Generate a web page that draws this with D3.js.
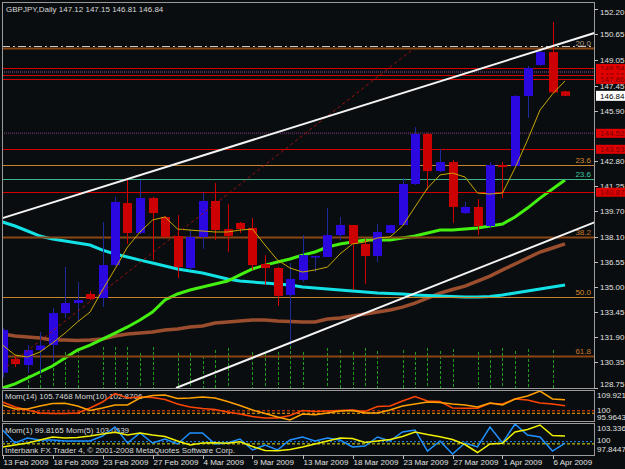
<!DOCTYPE html>
<html>
<head>
<meta charset="utf-8">
<script src="https://cdn.jsdelivr.net/npm/d3@7"></script>
<style>
  body { margin: 0; background: #0a0d0f; }
  #chart { width: 625px; height: 469px; }
  text { font-family: "Liberation Sans", Arial, sans-serif; font-size: 8px; }
</style>
</head>
<body>
<div id="chart"></div>
<script>
// GBPJPY daily bars, 13 Feb 2009 .. 7 Apr 2009 (sunday bars included)
const dateBars = [0, 4, 8, 12, 16, 20, 24, 28, 32, 36, 40, 44];
const dateLabels = ["13 Feb 2009", "18 Feb 2009", "23 Feb 2009", "27 Feb 2009", "4 Mar 2009", "9 Mar 2009",
    "13 Mar 2009", "18 Mar 2009", "23 Mar 2009", "27 Mar 2009", "1 Apr 2009", "6 Apr 2009"];

const openPrices = [129.70, 130.54, 130.17, 131.10, 131.41, 133.39, 134.01, 134.57, 134.32, 136.36, 140.20, 138.35,
    140.51, 139.34, 138.16, 136.18, 138.10, 140.33, 138.59, 138.97, 138.66, 136.43, 136.18, 134.51, 135.44, 136.86,
    136.86, 138.22, 138.84, 137.67, 136.92, 138.35, 138.84, 141.38, 144.48, 142.18, 142.74, 139.58, 139.96, 138.78,
    142.56, 142.49, 146.83, 148.75, 149.55, 147.12];
const highPrices = [132.45, 130.73, 131.41, 132.22, 133.70, 136.24, 135.31, 134.75, 139.03, 140.58, 141.75, 141.63,
    140.58, 139.40, 139.46, 138.53, 140.82, 141.44, 140.14, 139.03, 139.27, 136.98, 136.24, 136.49, 138.22, 136.92,
    139.89, 139.34, 138.84, 137.97, 138.90, 138.84, 141.75, 144.90, 144.54, 143.55, 142.87, 140.27, 140.45, 142.74,
    142.74, 146.89, 148.69, 149.68, 151.41, 147.15];
const lowPrices = [129.40, 130.05, 129.68, 129.68, 130.36, 133.08, 132.84, 134.20, 133.76, 136.30, 137.67, 138.28,
    136.67, 138.04, 135.56, 136.06, 137.36, 137.91, 137.17, 138.35, 136.06, 135.13, 133.83, 131.41, 135.31, 135.93,
    136.86, 137.91, 134.82, 135.19, 136.55, 138.35, 138.84, 141.32, 141.01, 142.12, 138.97, 139.52, 138.22, 138.66,
    140.51, 142.43, 145.47, 148.69, 147.01, 146.81];
const closePrices = [132.35, 130.23, 131.10, 131.38, 133.39, 134.01, 134.20, 134.26, 136.36, 140.27, 138.35, 140.51,
    139.58, 138.10, 136.24, 138.10, 140.33, 138.53, 138.16, 138.59, 136.36, 136.18, 134.45, 135.50, 136.98, 136.92,
    138.22, 138.84, 137.67, 136.92, 138.41, 138.84, 141.38, 144.48, 142.18, 142.74, 139.96, 139.96, 138.78, 142.56,
    142.43, 146.83, 148.56, 149.55, 147.05, 146.84];

// moving averages as drawn on the chart
const maYellow = [131.41, 130.79, 130.67, 130.98, 131.54, 132.15, 132.84, 133.45, 134.82, 136.12, 137.48, 138.41,
    139.15, 139.34, 138.59, 138.53, 138.47, 138.41, 138.41, 138.53, 138.59, 137.60, 136.67, 136.18, 135.93, 136.06,
    136.24, 137.05, 137.67, 137.79, 138.04, 138.10, 138.78, 139.96, 141.13, 141.94, 142.06, 141.81, 140.82, 140.76,
    140.82, 142.37, 144.10, 145.96, 146.95, 147.76];
const maCyan = [139.03, 138.78, 138.47, 138.16, 137.97, 137.85, 137.73, 137.60, 137.29, 137.05, 136.86, 136.67,
    136.49, 136.30, 136.12, 135.99, 135.87, 135.68, 135.50, 135.37, 135.31, 135.25, 135.19, 135.13, 135.00, 134.94,
    134.88, 134.82, 134.75, 134.69, 134.63, 134.60, 134.57, 134.51, 134.48, 134.45, 134.42, 134.38, 134.38, 134.42,
    134.51, 134.63, 134.75, 134.88, 135.00, 135.13];
const maGreen = [128.75, 129.00, 129.37, 129.74, 130.11, 130.61, 131.10, 131.41, 131.78, 132.15, 132.53, 132.96,
    133.45, 134.20, 134.57, 134.82, 135.00, 135.19, 135.37, 135.75, 136.12, 136.36, 136.55, 136.74, 136.98, 137.17,
    137.48, 137.67, 137.79, 137.91, 137.91, 137.91, 138.04, 138.16, 138.35, 138.53, 138.53, 138.59, 138.66, 138.78,
    138.90, 139.34, 139.89, 140.51, 141.07, 141.63];
const maBrown = [132.09, 131.97, 131.91, 131.84, 131.72, 131.72, 131.69, 131.72, 131.78, 131.97, 132.09, 132.15,
    132.22, 132.34, 132.40, 132.53, 132.59, 132.77, 132.84, 132.90, 132.96, 132.96, 132.90, 132.87, 132.84, 132.84,
    133.02, 133.08, 133.21, 133.33, 133.45, 133.58, 133.76, 134.01, 134.32, 134.63, 134.85, 135.06, 135.37, 135.68,
    136.06, 136.43, 136.80, 137.17, 137.42, 137.67];

// green dashed bars at the foot of the price window
const volumes = [null, null, 38, 28, 25, 36, 38, null, 41, 41, 41, 35, 41, null, 35, 35, 32, 38, 40, null, 36, 35,
    36, 42, 36, null, 40, 38, 36, 40, 37, null, 38, 36, 40, 37, 39, null, 36, 38, 40, 37, 39, null, 38, null];

// momentum windows
const mom14 = [103.18, 101.26, 101.26, 102.70, 103.91, 104.00, 102.70, 100.54, 101.74, 103.18, 103.18, 106.55,
    107.76, 107.99, 106.31, 106.55, 107.03, 106.55, 104.87, 102.94, 100.78, 99.09, 97.41, 95.96, 98.85, 98.47,
    99.33, 100.30, 100.54, 99.33, 99.33, 100.78, 102.70, 103.66, 104.63, 104.39, 103.66, 103.18, 102.22, 104.15,
    103.18, 106.07, 107.52, 109.92, 106.07, 105.75];
const mom10 = [104.63, 102.22, 100.78, 99.33, 99.09, 99.09, 99.33, 101.74, 104.63, 108.72, 106.55, 107.03, 106.79,
    105.83, 103.66, 102.22, 101.50, 101.02, 99.81, 98.85, 97.65, 96.93, 96.93, 98.13, 100.54, 100.06, 100.30, 100.54,
    100.78, 100.06, 102.46, 102.70, 105.11, 107.27, 105.11, 104.87, 101.74, 101.60, 101.60, 104.00, 103.66, 106.07,
    105.59, 104.15, 103.66, 102.87];
const mom1 = [102.24, 99.86, 100.77, 100.41, 100.41, 100.22, 100.22, 100.22, 101.14, 102.79, 99.86, 101.69, 99.86,
    100.59, 99.68, 101.69, 101.69, 99.68, 99.86, 100.59, 98.58, 99.49, 98.58, 100.41, 100.96, 100.22, 100.77, 100.41,
    99.13, 99.31, 100.96, 100.22, 101.87, 102.24, 98.39, 100.22, 97.84, 99.86, 99.13, 102.79, 99.86, 103.34, 101.32,
    100.96, 98.39, 99.82];
const mom5 = [99.13, 99.49, 99.86, 100.41, 100.96, 100.77, 100.87, 101.14, 101.51, 101.82, 101.32, 101.69, 101.32,
    101.05, 100.22, 99.49, 99.86, 99.91, 99.80, 100.10, 99.22, 98.49, 98.45, 98.67, 99.13, 99.68, 100.22, 100.77,
    100.68, 99.95, 100.22, 100.50, 101.05, 101.87, 101.41, 101.01, 100.50, 99.58, 98.12, 99.68, 99.80, 101.87, 102.33,
    103.15, 101.23, 101.14];

// axis ticks
const priceTicks = [152.20, 150.65, 149.05, 147.45, 145.90, 142.80, 141.25, 139.70, 138.10, 136.55, 135.00, 133.45,
    131.90, 130.35, 128.75];
const mom1Ticks = [109.9218, 100, 95.9643];
const mom2Ticks = [103.3367, 100, 97.8447];

// objects drawn on the chart
const fibPrices = [149.78, 142.56, 141.67, 138.12, 134.36, 130.75];
const fibLabels = ["20.0", "23.6", "23.6", "38.2", "50.0", "61.8"];
const redLevels = [148.54, 148.16, 147.86, 143.53, 140.87];
const dottedLevels = [148.31, 144.52];
const dashDotLevels = [149.90];
const redLabelPrices = [148.54, 148.16, 147.86, 144.52, 143.53, 140.87];
const upperTrend = [[0, 139.27], [47.4, 150.74]];
const lowerTrend = [[13.88, 128.75], [47.4, 139.02]];
const dashTrend = [[0.35, 130.07], [32.76, 149.68]];
const lastPrice = 146.84;

const W = 625, H = 469;
const left = 2, right = 594;
const fibColors = ["#8b4513", "#c8842c", "#3cb48c", "#8b4513", "#c8842c", "#8b4513"];
const fibWidths = [2, 1, 1, 2, 1, 2];
const fibTextColors = ["#b09a80", "#d2882a", "#3cc8a0", "#c8782a", "#d2882a", "#c8782a"];

const svg = d3.select("#chart").append("svg")
    .attr("width", W)
    .attr("height", H)
    .style("background-color", "#0a0d0f");

const x = d3.scaleLinear().domain([0, 45]).range([2.5, 565]);
const y = d3.scaleLinear().domain([128.75, 152.65]).range([388, 2]);
const yVol = d3.scaleLinear().domain([0, 50]).range([388, 338]);
const yM1 = d3.scaleLinear().domain([95.9643, 109.9218]).range([420, 391]);
const yM2 = d3.scaleLinear().domain([97.8447, 103.3367]).range([454, 424]);

const defs = svg.append("defs");
defs.append("clipPath").attr("id", "clipMain")
    .append("rect").attr("x", left).attr("y", 2).attr("width", right - left).attr("height", 386);
defs.append("clipPath").attr("id", "clipM1")
    .append("rect").attr("x", left).attr("y", 390).attr("width", right - left).attr("height", 31);
defs.append("clipPath").attr("id", "clipM2")
    .append("rect").attr("x", left).attr("y", 423).attr("width", right - left).attr("height", 32);

// ---------- main price window ----------
const main = svg.append("g").attr("clip-path", "url(#clipMain)");

main.append("text")
    .attr("x", 6).attr("y", 12)
    .attr("fill", "#d8d8d8")
    .text("GBPJPY,Daily  147.12 147.15 146.81 146.84");

main.selectAll("line.vol")
    .data(volumes.map((v, i) => ({ v: v, i: i })).filter(d => d.v != null))
    .enter().append("line")
    .attr("class", "vol")
    .attr("x1", d => Math.round(x(d.i)) + 0.5)
    .attr("x2", d => Math.round(x(d.i)) + 0.5)
    .attr("y1", d => yVol(d.v))
    .attr("y2", 388)
    .attr("stroke", "#1f9a1f")
    .attr("stroke-dasharray", "3,2")
    .attr("stroke-width", 1);

const lineGen = d3.line().x((d, i) => x(i)).y(d => y(d));
const ptLine = d3.line().x(d => x(d[0])).y(d => y(d[1]));

// moving averages (under the candles)
main.append("path").attr("d", lineGen(maBrown)).attr("fill", "none")
    .attr("stroke", "#9a4e2e").attr("stroke-width", 3.5);
main.append("path").attr("d", lineGen(maCyan)).attr("fill", "none")
    .attr("stroke", "#12e2e6").attr("stroke-width", 3);
main.append("path").attr("d", lineGen(maGreen)).attr("fill", "none")
    .attr("stroke", "#44f010").attr("stroke-width", 3);

// horizontal levels
main.selectAll("line.fib")
    .data(fibPrices)
    .enter().append("line")
    .attr("x1", left).attr("x2", right)
    .attr("y1", d => Math.round(y(d)) + 0.5).attr("y2", d => Math.round(y(d)) + 0.5)
    .attr("stroke", (d, i) => fibColors[i])
    .attr("stroke-width", (d, i) => fibWidths[i]);

main.selectAll("line.red")
    .data(redLevels)
    .enter().append("line")
    .attr("x1", left).attr("x2", right)
    .attr("y1", d => Math.round(y(d)) + 0.5).attr("y2", d => Math.round(y(d)) + 0.5)
    .attr("stroke", "#d40000").attr("stroke-width", 1);

main.selectAll("line.dotted")
    .data(dottedLevels)
    .enter().append("line")
    .attr("x1", left).attr("x2", right)
    .attr("y1", d => y(d)).attr("y2", d => y(d))
    .attr("stroke", "#4e2a50").attr("stroke-width", 2)
    .attr("stroke-dasharray", "1,1");

main.selectAll("line.dashdot")
    .data(dashDotLevels)
    .enter().append("line")
    .attr("x1", left).attr("x2", right)
    .attr("y1", d => Math.round(y(d)) + 0.5).attr("y2", d => Math.round(y(d)) + 0.5)
    .attr("stroke", "#c8c8c8").attr("stroke-width", 1)
    .attr("stroke-dasharray", "8,3,2,3");

main.selectAll("text.fib")
    .data(fibPrices)
    .enter().append("text")
    .attr("x", right - 3).attr("y", d => y(d) - 2)
    .attr("text-anchor", "end")
    .attr("fill", (d, i) => fibTextColors[i])
    .text((d, i) => fibLabels[i]);

// candles
const bars = d3.range(openPrices.length);
const isUp = i => closePrices[i] >= openPrices[i];

main.selectAll("line.wick")
    .data(bars)
    .enter().append("line")
    .attr("x1", i => Math.round(x(i)) + 0.5)
    .attr("x2", i => Math.round(x(i)) + 0.5)
    .attr("y1", i => y(highPrices[i]))
    .attr("y2", i => y(lowPrices[i]))
    .attr("stroke", i => isUp(i) ? "#1c2a9a" : "#d00000")
    .attr("stroke-width", 1);

main.selectAll("rect.body")
    .data(bars)
    .enter().append("rect")
    .attr("x", i => Math.round(x(i)) - 4)
    .attr("width", 9)
    .attr("y", i => y(Math.max(openPrices[i], closePrices[i])))
    .attr("height", i => Math.max(1.5, Math.abs(y(openPrices[i]) - y(closePrices[i]))))
    .attr("fill", i => isUp(i) ? "#2c08e0" : "#cc0000");

main.append("path").attr("d", lineGen(maYellow)).attr("fill", "none")
    .attr("stroke", "#c8a800").attr("stroke-width", 1);

// trend lines
main.append("path").attr("d", ptLine(dashTrend)).attr("fill", "none")
    .attr("stroke", "#a01010").attr("stroke-width", 1).attr("stroke-dasharray", "3,3");
main.append("path").attr("d", ptLine(upperTrend)).attr("fill", "none")
    .attr("stroke", "#f4f4f4").attr("stroke-width", 2);
main.append("path").attr("d", ptLine(lowerTrend)).attr("fill", "none")
    .attr("stroke", "#f4f4f4").attr("stroke-width", 2);

// ---------- Mom(14) / Mom(10) window ----------
const m1 = svg.append("g").attr("clip-path", "url(#clipM1)");
m1.append("text").attr("x", 5).attr("y", 399).attr("fill", "#d8d8d8")
    .text("Mom(14) 105.7468  Mom(10) 102.8706");
m1.append("line").attr("x1", left).attr("x2", right).attr("y1", yM1(100.4)).attr("y2", yM1(100.4))
    .attr("stroke", "#ff4500").attr("stroke-dasharray", "3,2");
m1.append("line").attr("x1", left).attr("x2", right).attr("y1", yM1(99.2)).attr("y2", yM1(99.2))
    .attr("stroke", "#ffa500").attr("stroke-dasharray", "3,2");
const m1Line = d3.line().x((d, i) => x(i));
m1.append("path").attr("d", m1Line.y(d => yM1(d))(mom10)).attr("fill", "none")
    .attr("stroke", "#ff4500").attr("stroke-width", 1.5);
m1.append("path").attr("d", m1Line.y(d => yM1(d))(mom14)).attr("fill", "none")
    .attr("stroke", "#ffa000").attr("stroke-width", 1.5);

// ---------- Mom(1) / Mom(5) window ----------
const m2 = svg.append("g").attr("clip-path", "url(#clipM2)");
m2.append("text").attr("x", 5).attr("y", 433).attr("fill", "#d8d8d8")
    .text("Mom(1) 99.8165  Mom(5) 103.0539");
m2.append("text").attr("x", 5).attr("y", 453).attr("fill", "#d8d8d8")
    .text("Interbank FX Trader 4, \u00a9 2001-2008 MetaQuotes Software Corp.");
m2.append("line").attr("x1", left).attr("x2", right).attr("y1", yM2(100.1)).attr("y2", yM2(100.1))
    .attr("stroke", "#1e90ff").attr("stroke-dasharray", "2,2");
m2.append("line").attr("x1", left).attr("x2", right).attr("y1", yM2(99.7)).attr("y2", yM2(99.7))
    .attr("stroke", "#e8e800").attr("stroke-dasharray", "3,2");
const m2Line = d3.line().x((d, i) => x(i)).y(d => yM2(d));
m2.append("path").attr("d", m2Line(mom1)).attr("fill", "none")
    .attr("stroke", "#1e90ff").attr("stroke-width", 1.5);
m2.append("path").attr("d", m2Line(mom5)).attr("fill", "none")
    .attr("stroke", "#f0f000").attr("stroke-width", 1.5);

// ---------- frames ----------
const frames = [[2, 388], [390, 421], [423, 455]];
svg.selectAll("rect.frame")
    .data(frames)
    .enter().append("rect")
    .attr("x", left + 0.5).attr("y", d => d[0] + 0.5)
    .attr("width", right - left).attr("height", d => d[1] - d[0])
    .attr("fill", "none")
    .attr("stroke", "#9a9a9a")
    .attr("stroke-width", 1);

// ---------- price axis ----------
const axisG = svg.append("g");
axisG.selectAll("line.ptick")
    .data(priceTicks)
    .enter().append("line")
    .attr("x1", right).attr("x2", right + 4)
    .attr("y1", d => Math.round(y(d)) + 0.5).attr("y2", d => Math.round(y(d)) + 0.5)
    .attr("stroke", "#bdbdbd");
axisG.selectAll("text.ptick")
    .data(priceTicks)
    .enter().append("text")
    .attr("x", right + 6)
    .attr("y", d => Math.min(387, Math.max(15, y(d) + 3)))
    .attr("fill", "#e0e0e0")
    .text(d => d.toFixed(2));

axisG.selectAll("text.m1tick")
    .data(mom1Ticks)
    .enter().append("text")
    .attr("x", right + 3)
    .attr("y", (d, i) => i == 0 ? yM1(d) + 7 : (i == 1 ? yM1(d) + 1 : yM1(d)))
    .attr("fill", "#e0e0e0")
    .text(d => d);
axisG.selectAll("text.m2tick")
    .data(mom2Ticks)
    .enter().append("text")
    .attr("x", right + 3)
    .attr("y", (d, i) => i == 0 ? yM2(d) + 7 : (i == 1 ? yM2(d) + 1 : yM2(d) - 2))
    .attr("fill", "#e0e0e0")
    .text(d => d);

// red boxes for the horizontal lines
const redBox = axisG.selectAll("g.redbox")
    .data(redLabelPrices)
    .enter().append("g")
    .attr("transform", d => "translate(" + (right + 2) + "," + (y(d) - 4.5) + ")");
redBox.append("rect").attr("width", 31).attr("height", 9).attr("fill", "#e00000");
redBox.append("text").attr("x", 4).attr("y", 7.5).attr("fill", "#7a0000").text(d => d.toFixed(2));

// current price box
const lastBox = axisG.append("g")
    .attr("transform", "translate(" + (right + 2) + "," + (y(lastPrice) - 5) + ")");
lastBox.append("rect").attr("width", 31).attr("height", 10).attr("fill", "#ffffff");
lastBox.append("text").attr("x", 4).attr("y", 8).attr("fill", "#000000").text(lastPrice.toFixed(2));

// ---------- date axis ----------
const dateG = svg.append("g");
dateG.selectAll("line.dtick")
    .data(dateBars)
    .enter().append("line")
    .attr("x1", d => Math.round(x(d)) + 0.5).attr("x2", d => Math.round(x(d)) + 0.5)
    .attr("y1", 455).attr("y2", 459)
    .attr("stroke", "#bdbdbd");
dateG.selectAll("text.dlabel")
    .data(dateBars)
    .enter().append("text")
    .attr("x", d => x(d) + 1)
    .attr("y", 465)
    .attr("fill", "#e0e0e0")
    .text((d, i) => dateLabels[i]);
</script>
</body>
</html>
